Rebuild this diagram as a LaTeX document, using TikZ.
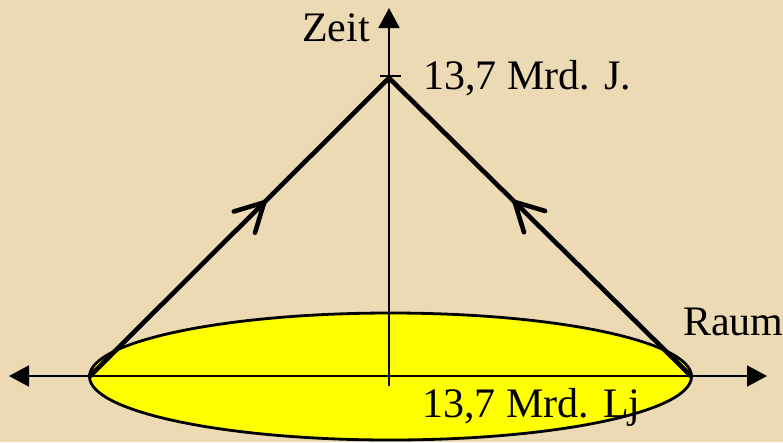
\documentclass[tikz,border=0pt]{standalone}
\usepackage{fontspec}
\setmainfont{Liberation Serif}
\usetikzlibrary{arrows.meta,decorations.markings,shapes.geometric}
\definecolor{parch}{RGB}{236,218,180}
\definecolor{discyellow}{RGB}{255,255,0}
\tikzset{
  axtip/.tip={Triangle[length=20pt,width=21pt]},
  barb/.tip={Straight Barb[length=28pt,width=30pt,round,line width=4.6pt]}
}
\begin{document}
\begin{tikzpicture}[x=1pt,y=-1pt,
  axisline/.style={line width=2pt, black},
  coneline/.style={line width=4.6pt, black, line join=miter},
  lbl/.style={font=\fontsize{42}{42}\selectfont, inner sep=0pt, anchor=base west, text=black}
]
\fill[parch] (0,0) rectangle (783,442);
\useasboundingbox (0,0) rectangle (783,442);
% disc
\node[ellipse, draw, fill=discyellow, line width=2.8pt, minimum width=602pt, minimum height=127pt, inner sep=0pt, outer sep=0pt] (disc) at (390.5,376.5) {};
% axes
\coordinate (HL) at (9,376);
\coordinate (HR) at (767,376);
\coordinate (VB) at (389,386);
\coordinate (VT) at (389,8);
\coordinate (T1) at (380,76);
\coordinate (T2) at (401,76);
\coordinate (A) at (389,78);
\draw[axisline, axtip-axtip] (HL) -- (HR);
\draw[axisline, -axtip] (VB) -- (VT);
\draw[axisline] (T1) -- (T2);
% light cone
\draw[coneline, postaction={decorate}, decoration={markings,
   mark=at position 249pt with {\arrow{barb}},
   mark=at position 597pt with {\arrowreversed{barb}}}]
  (disc.west) -- (A) -- (disc.east);
% labels
\node[lbl] (zeit) at (302,41) {Zeit};
\node[lbl] (tage) at (423,89) {13,7 Mrd. J.};
\node[lbl] (raum) at (683,335) {Raum};
\node[lbl] (lj) at (422,417) {13,7 Mrd. Lj};
\end{tikzpicture}
\end{document}
